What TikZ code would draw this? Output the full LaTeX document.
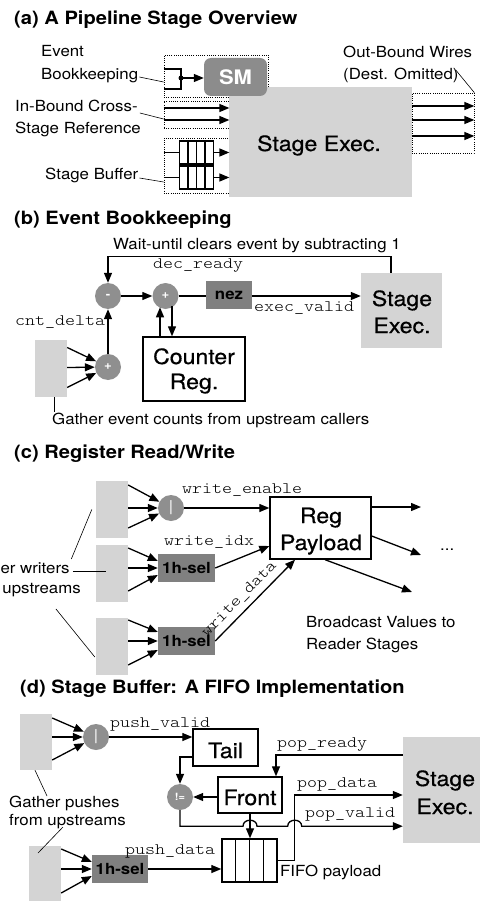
\documentclass[tikz,border=0pt]{standalone}
\usepackage{fontspec}
\setmainfont{TeX Gyre Heros}[FakeStretch=1.1]
\setmonofont{lmmonolt10-regular.otf}[FakeStretch=1.19]
\newfontfamily\boxfont{TeX Gyre Heros}[FakeStretch=1.1,FakeBold=0.6]
\usetikzlibrary{arrows.meta,calc}
\definecolor{blockgray}{gray}{0.83}
\definecolor{opgray}{gray}{0.56}
\definecolor{selgray}{gray}{0.5}
\definecolor{smgray}{gray}{0.55}
\begin{document}
\begin{tikzpicture}[x=1pt,y=-1pt,
  sz/.style 2 args={minimum width=#1,minimum height=#2},
  wire/.style={line width=1.3pt},
  arr/.style={wire,-{Triangle[length=10pt,width=8pt]}},
  leader/.style={line width=0.6pt},
  dotbox/.style={draw,line width=0.7pt,dash pattern=on 0.7pt off 1.5pt,inner sep=0},
  block/.style={fill=blockgray,inner sep=0},
  regbox/.style={draw,line width=1.4pt,fill=white,inner sep=0},
  selbox/.style={fill=selgray,inner sep=0,font=\bfseries\fontsize{15.3}{18}\selectfont},
  smbox/.style={fill=smgray,rounded corners=7pt,inner sep=0,text=white,font=\bfseries\fontsize{20}{22}\selectfont},
  opc/.style={circle,fill=opgray,minimum size=26,inner sep=0,text=white,font=\bfseries\fontsize{12}{12}\selectfont},
  fifoicon/.style={draw,line width=1.4pt,fill=white,inner sep=0,
    path picture={\foreach \k in {1,2,3}{\draw[line width=1.4pt]
      ($(path picture bounding box.north west)!\k/4!(path picture bounding box.north east)$) --
      ($(path picture bounding box.south west)!\k/4!(path picture bounding box.south east)$);}}},
  ttl/.style={font=\bfseries\fontsize{18.3}{22}\selectfont,anchor=base west,inner sep=0},
  lbl/.style={font=\fontsize{15.3}{18}\selectfont,anchor=base west,inner sep=0},
  big/.style={font=\boxfont\fontsize{21}{24}\selectfont,anchor=base,inner sep=0},
  code/.style={font=\ttfamily\fontsize{16}{18}\selectfont,inner sep=0},
  codel/.style={code,anchor=base west}]
\useasboundingbox (0,0) rectangle (480,901);

% ---------------- (a) overview ----------------
\node[ttl] (ta) at (14,25) {(a) A Pipeline Stage Overview};
\node[lbl] (aev1) at (41,57) {Event};
\node[lbl] (aev2) at (41,80) {Bookkeeping};
\node[lbl] (ain1) at (15,112) {In-Bound Cross-};
\node[lbl] (ain2) at (15,134) {Stage Reference};
\node[lbl] (abuf) at (45,180) {Stage Buffer};
\node[lbl] (aout1) at (343,58) {Out-Bound Wires};
\node[lbl] (aout2) at (343,80) {(Dest. Omitted)};

\node[dotbox,sz={104}{42}] (aboxsm) at (216,76) {};
\node[dotbox,sz={65}{27}] (aboxin) at (196.5,114.5) {};
\node[dotbox,sz={65}{55}] (aboxbuf) at (196.5,165.5) {};
\node[dotbox,sz={62}{60}] (aboxout) at (443,123) {};
\node[block,sz={183}{110}] (aexec) at (320.5,142) {};
\node[big] (aexect) at (319,151) {Stage Exec.};
\node[smbox,sz={63}{38}] (asm) at (235.5,77) {SM};

% event bookkeeping input bracket
\coordinate (asmdot) at (181,78);
\coordinate (abr1) at ([yshift=7pt]aboxsm.west);
\coordinate (abr2) at ([yshift=-13pt]aboxsm.west);
\draw[wire] (abr1) -| (asmdot) |- (abr2);
\fill (asmdot) circle[radius=2.5];
\draw[arr] (asmdot) -- (asmdot -| asm.west);

% cross-stage references
\draw[arr] ([yshift=6.5pt]aboxin.west) -- ([yshift=6.5pt]aboxin.east);
\draw[arr] ([yshift=-5.5pt]aboxin.west) -- ([yshift=-5.5pt]aboxin.east);

% stage buffers
\node[fifoicon,sz={34}{23}] (afifo1) at (196.3,152.5) {};
\node[fifoicon,sz={34}{23}] (afifo2) at (196.3,177.5) {};
\foreach \f in {afifo1,afifo2}{
  \draw[wire] (\f -| aboxbuf.west) -- (\f.west);
  \draw[arr] (\f.east) -- (\f -| aboxbuf.east);
}

% out-bound wires
\foreach \s in {17,3,-13}
  \draw[arr] ([yshift=\s pt]aboxout.west) -- ([yshift=\s pt]aboxout.east);

% leaders
\draw[leader] ([shift={(1,-3)}]aev2.base east) -- ([yshift=-6pt]aboxsm.west);
\draw[leader] ([shift={(2,1)}]ain1.base east) -- ([yshift=-4.5pt]aboxin.west);
\draw[leader] ([shift={(1,-2)}]abuf.base east) -- ([yshift=-16.5pt]aboxbuf.west);
\draw[leader] ([shift={(-3,-10)}]aout2.base east) -- (aboxout.north east);

% ---------------- (b) event bookkeeping ----------------
\node[ttl] (tb) at (14,225) {(b) Event Bookkeeping};
\node[lbl] (bwait) at (113,249) {Wait-until clears event by subtracting 1};
\node[block,sz={81}{75}] (bexec) at (401.5,310.5) {};
\node[big] (bexect1) at (402,306) {Stage};
\node[big] (bexect2) at (402,333) {Exec.};
\node[opc] (bminus) at (108,296) {-};
\node[opc] (bplus) at (165.5,296) {+};
\node[opc] (bsum) at (108,367) {+};
\node[selbox,sz={46}{28}] (bnez) at (229,295) {nez};
\node[regbox,sz={102}{64}] (bcnt) at (194,369) {};
\node[big] (bcntt1) at (194,364) {Counter};
\node[big] (bcntt2) at (194,389) {Reg.};
\node[block,sz={32}{57}] (bin) at (51,368.5) {};
\node[codel] (bdec) at (153,268) {dec\_ready};
\node[codel] (bexv) at (254,311) {exec\_valid};
\node[codel] (bcnd) at (15,325) {cnt\_delta};
\node[lbl] (bgath) at (52,424) {Gather event counts from upstream callers};

\draw[arr] ([xshift=-10.5pt]bexec.north) -- ++(0,-16) -| (bminus.north);
\draw[arr] (bminus) -- (bplus);
\draw[wire] (bplus) -- (bplus -| bnez.west);
\draw[arr] (bplus -| bnez.east) -- (bplus -| bexec.west);
\draw[arr] (bsum) -- (bminus);
\draw[arr] ([xshift=-34pt]bcnt.north) -- ++(0,-29);
\draw[arr] ($(bcnt.north)+(-22,-30)$) -- ([xshift=-22pt]bcnt.north);
\foreach \s in {21,1,-19}
  \draw[arr] ([yshift=\s pt]bin.east) -- (bsum);
\draw[leader] ([xshift=3pt]bin.south) -- ++(0,15);

% ---------------- (c) register read/write ----------------
\node[ttl] (tc) at (14,458) {(c) Register Read/Write};
\node[block,sz={32}{57}] (cb1) at (112,509.5) {};
\node[block,sz={32}{57}] (cb2) at (112,573.5) {};
\node[block,sz={32}{57}] (cb3) at (112,646.5) {};
\node[opc,font=\fontsize{15}{15}\selectfont] (cor) at (171,508) {|};
\node[selbox,sz={57}{28}] (csel1) at (186.5,568) {1h-sel};
\node[selbox,sz={57}{28}] (csel2) at (186.5,641) {1h-sel};
\node[regbox,sz={101}{62}] (creg) at (320.5,528) {};
\node[big] (cregt1) at (321,523) {Reg};
\node[big] (cregt2) at (321,550) {Payload};
\node[codel] (cwe) at (182,493) {write\_enable};
\node[codel] (cwi) at (164,545) {write\_idx};
\node[lbl] (cg1) at (-36,573) {Gather writers};
\node[lbl] (cg2) at (-36,593) {from upstreams};
\node[lbl] (cbc1) at (306,627) {Broadcast Values to};
\node[lbl] (cbc2) at (306,649) {Reader Stages};
\node[lbl] (cdots) at (440,550) {...};

\foreach \s in {24.5,1.5,-18.5}
  \draw[arr] ([yshift=\s pt]cb1.east) -- (cor);
\draw[arr] (cor) -- (cor -| creg.west);
\foreach \s/\t in {25.5/7,5.5/0,-17.5/-7}
  \draw[arr] ([yshift=\s pt]cb2.east) -- ([yshift=\t pt]csel1.west);
\foreach \s/\t in {26.5/9,5.5/0,-18.5/-9}
  \draw[arr] ([yshift=\s pt]cb3.east) -- ([yshift=\t pt]csel2.west);
\draw[arr] (csel1.east) -- ([yshift=-18pt]creg.west);
\draw[arr] (csel2.east) -- node[code,sloped,pos=0.41,above=5pt] (cwd) {write\_data} ([xshift=-25.5pt]creg.south);
\coordinate (co1) at (421,507);
\coordinate (co2) at (421,555);
\coordinate (co3) at (412,592);
\draw[arr] ([yshift=21pt]creg.east) -- (co1);
\draw[arr] ([yshift=-8pt]creg.east) -- (co2);
\draw[arr] ([xshift=4.5pt]creg.south) -- (co3);
\draw[leader] ([shift={(1.5,-14)}]cg1.base east) -- ([xshift=-4pt]cb1.west);
\draw[leader] ([shift={(3,-2)}]cg1.base east) -- ([shift={(-6,-2.5)}]cb2.center);
\draw[leader] ([shift={(-25,16)}]cg2.base east) -- ([shift={(-1,10.5)}]cb3.west);

% ---------------- (d) stage buffer ----------------
\node[ttl] (td) at (20,693) {(d) Stage Buffer: A FIFO Implementation};
\node[block,sz={32}{56}] (dA) at (36,742) {};
\node[opc,font=\fontsize{15}{15}\selectfont] (dor) at (96,737) {|};
\node[regbox,sz={65}{37}] (dtail) at (225.5,747.5) {};
\node[big] (dtailt) at (225.5,758) {Tail};
\node[regbox,sz={64}{36}] (dfront) at (250,795) {};
\node[big] (dfrontt) at (250,805) {Front};
\node[opc,font=\bfseries\fontsize{10}{10}\selectfont] (dneq) at (180,797) {!=};
\node[block,sz={77}{106}] (dexec) at (441.5,790) {};
\node[big] (dexect1) at (445,786) {Stage};
\node[big] (dexect2) at (445,814) {Exec.};
\node[fifoicon,sz={55}{43}] (dfifo) at (249.5,860.5) {};
\node[block,sz={32}{59}] (dB) at (45,875.5) {};
\node[selbox,sz={56}{28}] (dsel) at (120,869) {1h-sel};
\node[codel] (dpvl) at (110,727) {push\_valid};
\node[codel] (dprl) at (277,747) {pop\_ready};
\node[codel] (dpdl) at (297,787) {pop\_data};
\node[codel] (dpvl2) at (305,817) {pop\_valid};
\node[codel] (dpush) at (125,854) {push\_data};
\node[lbl] (dg1) at (9,807) {Gather pushes};
\node[lbl] (dg2) at (9,825) {from upstreams};
\node[lbl] (dfp) at (280,876) {FIFO payload};

\foreach \s in {24,5,-18}
  \draw[arr] ([yshift=\s pt]dA.east) -- (dor);
\draw[arr] (dor) -- (dor -| dtail.west);
\draw[arr] ([yshift=-9.5pt]dtail.west) -| (dneq.north);
\draw[arr] (dneq -| dfront.west) -- (dneq);
\draw[arr] ([yshift=35pt]dexec.west) -| ([xshift=26pt]dfront.north);
\draw[arr] (dfront.south) -- (dfront.south |- dfifo.north);
\draw[arr] (dfifo.east) -- ++(17,0) |- ([yshift=-5pt]dexec.west);
\path (dneq.south) ++(0,16) coordinate (dpv);
\draw[arr] (dneq.south) -- (dpv)
  -- ($(dpv -| dfront.south)+(-7,0)$) .. controls +(0,-8) and +(0,-8) .. ($(dpv -| dfront.south)+(7,0)$)
  -- ($(dpv -| dfifo.east)+(10,0)$) .. controls +(0,-8) and +(0,-8) .. ($(dpv -| dfifo.east)+(24,0)$)
  -- (dpv -| dexec.west);
\foreach \s/\t in {26.5/7,6.5/0,-17.5/-7}
  \draw[arr] ([yshift=\s pt]dB.east) -- ([yshift=\t pt]dsel.west);
\draw[arr] (dsel) -- (dsel -| dfifo.west);
\draw[leader] ([xshift=-1pt]dA.south) -- ([shift={(38,-11)}]dg1.base west);
\draw[leader] ([shift={(54,2)}]dg2.base west) -- ([shift={(-7,-22.5)}]dB.center);
\end{tikzpicture}
\end{document}
